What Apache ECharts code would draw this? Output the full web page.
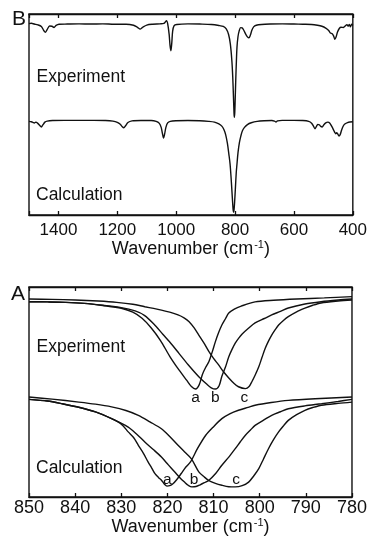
<!DOCTYPE html>
<html><head><meta charset="utf-8">
<script src="https://cdn.jsdelivr.net/npm/echarts@6/dist/echarts.min.js"></script>
<style>html,body{margin:0;padding:0;background:#fff}#c{width:370px;height:544px}</style>
</head><body><div id="c"></div>
<script>
// ---------- data ----------
const panelLetters = ['B', 'A'];
const traceLabels = ['Experiment', 'Calculation'];
const peakLetters = ['a', 'b', 'c'];
const bTicks = [1400, 1200, 1000, 800, 600, 400];
const aTicks = [850, 840, 830, 820, 810, 800, 790, 780];
const axisTitle = 'Wavenumber (cm{s|-1})';

// Panel B: full spectra [wavenumber, relative transmittance]
const bExperiment = [[1500,95.2],[1492,95.4],[1482,95.0],[1470,94.6],[1458,93.8],[1450,91.8],[1444,90.9],[1438,92.4],[1430,94.0],[1422,93.9],[1415,93.3],[1408,94.3],[1398,94.9],[1370,95.0],[1330,95.1],[1290,95.0],[1250,95.1],[1210,94.9],[1170,94.9],[1145,94.4],[1132,93.4],[1122,92.5],[1112,93.6],[1100,94.5],[1080,94.9],[1055,95.1],[1042,95.3],[1036,96.2],[1033,96.7],[1029,95.2],[1024,90.0],[1021,84.5],[1018,81.7],[1015,85.5],[1012,91.5],[1007,94.2],[998,94.8],[960,95.1],[920,95.0],[880,94.8],[855,94.3],[840,93.8],[830,92.6],[822,89.8],[816,85.0],[811,77],[808,69],[805.5,59],[803.5,50.5],[802.5,48.6],[801,51],[799.5,58],[797.5,68],[795.5,76.5],[793.5,83.4],[790,88.8],[786,91.6],[781,93.2],[776,93.1],[770,91.8],[764,90.0],[758,88.6],[753,88.1],[748,89.5],[743,91.9],[737,93.6],[728,94.4],[710,94.8],[680,95.0],[640,95.1],[600,95.0],[570,94.9],[540,94.8],[520,94.4],[505,93.9],[492,93.0],[482,91.8],[476,90.5],[470,90.2],[465,89.0],[461,87.4],[457,88.5],[452,91.0],[446,92.8],[440,93.4],[432,93.3],[426,94.0],[420,94.7],[416,93.9],[412,94.8],[408,93.6],[404,94.9],[400,94.3]];
const bCalculation = [[1500,46.6],[1492,46.4],[1486,46.0],[1482,45.8],[1477,46.2],[1470,45.6],[1464,44.6],[1458,43.8],[1453,44.8],[1446,46.2],[1438,46.7],[1420,47.0],[1380,47.1],[1330,47.1],[1280,47.1],[1240,47.0],[1215,46.7],[1200,46.1],[1190,45.1],[1183,43.9],[1178,43.4],[1172,44.4],[1164,46.0],[1150,46.8],[1120,47.0],[1085,47.0],[1068,46.6],[1058,45.7],[1051,43.6],[1047,40.8],[1043,38.3],[1039,40.5],[1035,43.6],[1029,45.8],[1020,46.6],[1000,46.9],[960,47.0],[920,46.9],[890,46.6],[870,46.2],[855,45.3],[845,44.2],[838,42.5],[832,40.0],[826,35.6],[821,30.2],[817,25.4],[813.5,18.5],[810.5,11.5],[808,5.5],[806.5,2.5],[805,1.3],[803.5,2.5],[801.5,6.5],[799,13],[796,21],[793.5,25.4],[790,31],[785,36.2],[780,39.5],[775,41.9],[768,43.6],[758,45.0],[745,45.9],[725,46.6],[700,46.9],[675,47.0],[666,46.7],[661,46.3],[656,46.8],[640,47.1],[600,47.1],[570,47.0],[550,46.6],[540,45.7],[534,44.3],[528.5,42.9],[524,44.0],[519,45.0],[514,44.9],[509,44.1],[504,43.8],[499,44.8],[492,45.8],[485,46.2],[478,45.7],[472,44.2],[466,42.5],[461,41.0],[458,40.4],[455,40.9],[451,40.3],[447,39.3],[443,40.0],[438,42.3],[432,44.4],[426,45.4],[418,46.0],[410,46.3],[400,46.4]];

// Panel A: zoom on the ~810 cm-1 band, samples a, b, c
const aExpA = [[850,93.0],[846,92.9],[842,92.7],[838,92.2],[834,91.2],[830,89.9],[827.5,88.0],[825.5,85.1],[823.5,80.5],[821.5,74.5],[819.5,67.0],[817.5,60.5],[815.8,55.5],[814.8,52.6],[813.9,51.4],[813.1,53.5],[812.4,58.5],[811.7,61.8],[811,64.5],[810.3,69.0],[809.6,74.0],[808.9,78.3],[808.2,81.9],[807.4,85.0],[806.7,87.6],[805.5,89.5],[804,90.9],[801,92.9],[797,93.7],[792,94.3],[786,94.8],[780,95.4]];
const aExpB = [[850,93.0],[846,92.9],[842,92.7],[838,92.2],[834,91.3],[830,90.2],[827,88.6],[825,86.5],[823,82.5],[821,77.5],[819,72.5],[817.5,68.4],[815.5,63.0],[813.2,57.3],[811.5,53.8],[810.5,52.0],[809.6,51.4],[808.8,53.0],[808.2,57.5],[807.4,62.0],[806.7,66.8],[806,70.3],[805.3,73.3],[804.5,75.8],[803.8,77.6],[802.5,80.2],[801,82.9],[799,85.0],[797.4,86.7],[795.5,88.4],[793.8,90.0],[790.2,91.9],[786.7,93.0],[783,93.8],[780,94.3]];
const aExpC = [[850,94.3],[845,94.1],[840,93.8],[835,93.3],[831,92.7],[827.5,91.8],[824.9,90.6],[823,89.8],[821.3,89.0],[819.5,88.0],[817.7,86.7],[816.4,85.3],[815.3,83.5],[814.2,80.5],[813.2,77.1],[812,73.0],[811,69.2],[810,66.0],[808.9,62.9],[807.8,59.5],[806.7,56.7],[805.6,54.2],[804.6,52.5],[803.1,51.6],[802.3,52.6],[801.7,54.9],[801,58.0],[800.2,62.0],[799.5,66.5],[798.8,70.8],[798.1,74.2],[797.4,77.1],[796.6,79.8],[795.9,81.9],[794.8,84.2],[793.8,85.9],[792,88.2],[790.2,89.9],[788.5,91.3],[786.7,92.4],[783,93.3],[780,93.8]];
const aCalcA = [[850,46.5],[846,45.7],[842.8,44.4],[839,42.6],[835.6,40.5],[832.1,37.3],[830,34.7],[828.5,31.0],[827.3,28.2],[826.3,24.6],[825.2,20.8],[824.2,16.7],[823.4,13.8],[822.7,11.1],[821.9,9.2],[821.3,8.0],[820.6,6.0],[820.1,5.2],[819.5,5.4],[818.8,6.3],[818,8.2],[817,11.2],[816,14.3],[815,16.7],[813.5,23.0],[811.7,29.4],[810,33.5],[808.2,37.3],[806.5,39.6],[804.6,41.3],[802.5,42.7],[801,43.7],[797.5,45.0],[793.8,46.0],[788,46.8],[780,47.6]];
const aCalcB = [[850,46.5],[846,45.7],[842.8,44.4],[839,42.6],[835.6,40.5],[832.1,37.3],[828.5,33.3],[826.7,30.0],[824.9,26.2],[823,22.5],[821.3,19.0],[819.8,15.3],[818.4,11.9],[817.3,9.2],[816.3,7.1],[815.5,5.6],[814.7,4.8],[813.8,5.0],[813,5.7],[812,6.8],[811,8.0],[809.5,11.3],[808.2,15.1],[806.7,19.0],[805.3,23.0],[804.2,26.3],[803.1,29.4],[802,31.9],[801,34.1],[799,36.8],[797.4,38.9],[795.5,40.6],[793.8,42.0],[790.2,43.4],[786.6,44.4],[783,45.5],[780,46.5]];
const aCalcC = [[850,47.6],[845,46.6],[839.2,45.2],[835.6,44.2],[832.1,42.9],[829,41.2],[826.3,38.9],[823.8,35.8],[821.3,32.5],[819.5,28.8],[817.7,24.6],[816.2,21.3],[814.8,18.2],[813.2,12.0],[812,9.5],[811,7.8],[809.6,6.5],[808.2,5.6],[806.7,4.9],[805.3,4.8],[803.8,5.4],[802.4,7.1],[801.3,10.0],[800.2,13.5],[799.2,18.0],[798.1,23.0],[797,27.3],[795.9,31.0],[794.8,34.0],[793.8,36.5],[792,39.2],[790.2,41.3],[788.5,42.6],[786.6,43.7],[783,44.6],[780,45.2]];

// peak-letter anchor points [wavenumber, level]
const aExpLetterPos = [813.9, 809.6, 803.3];
const aExpLetterLevel = 47.3;
const aCalcLetterPos = [820.0, 814.2, 805.1];
const aCalcLetterLevel = 8.4;

// ---------- chart ----------
const FF = "'Liberation Sans', Arial, Helvetica, sans-serif";
const INK = '#111';
const chart = echarts.init(document.getElementById('c'), null, {renderer: 'canvas'});

function xAx(grid, min, max, interval, ticks, pos, fs, margin, gap) {
  const bottom = pos === 'bottom';
  return {
    type: 'value', gridIndex: grid, inverse: true, min: min, max: max, interval: interval,
    position: pos,
    axisLine: {show: true, onZero: false, lineStyle: {color: INK, width: 1.4}},
    axisTick: {show: true, inside: true, length: 4, lineStyle: {color: INK, width: 1.3}},
    axisLabel: {show: bottom, fontSize: fs, color: INK, fontFamily: FF, margin: margin,
      showMinLabel: true, showMaxLabel: true,
      formatter: v => ticks.indexOf(v) >= 0 ? String(v) : ''},
    splitLine: {show: false},
    name: bottom ? axisTitle : '', nameLocation: 'middle', nameGap: gap,
    nameTextStyle: {fontSize: 18, color: INK, fontFamily: FF,
      rich: {s: {fontSize: 11, color: INK, fontFamily: FF, verticalAlign: 'top', padding: [0, 0, 0, 1]}}}
  };
}
function yAx(grid) {
  return {type: 'value', gridIndex: grid, min: 0, max: 100, show: false};
}
function line(data, xi, yi) {
  return {type: 'line', data: data, xAxisIndex: xi, yAxisIndex: yi, showSymbol: false, symbol: 'none',
    smooth: 0.3, lineStyle: {color: INK, width: 1.4}, silent: true, z: 3};
}

chart.setOption({
  animation: false,
  backgroundColor: '#fff',
  grid: [
    {left: 29, right: 16, top: 14, height: 201, show: true, borderColor: INK, borderWidth: 1.4, backgroundColor: 'transparent'},
    {left: 29, right: 16, top: 287, height: 210, show: true, borderColor: INK, borderWidth: 1.4, backgroundColor: 'transparent'}
  ],
  xAxis: [
    xAx(0, 400, 1500, 200, bTicks, 'bottom', 17, 7, 19),
    xAx(0, 400, 1500, 200, bTicks, 'top', 17, 7, 0),
    xAx(1, 780, 850, 10, aTicks, 'bottom', 18, 2, 13),
    xAx(1, 780, 850, 10, aTicks, 'top', 18, 2, 0)
  ],
  yAxis: [yAx(0), yAx(1)],
  series: [
    line(bExperiment, 0, 0), line(bCalculation, 0, 0),
    line(aExpA, 2, 1), line(aExpB, 2, 1), line(aExpC, 2, 1),
    line(aCalcA, 2, 1), line(aCalcB, 2, 1), line(aCalcC, 2, 1)
  ]
});

const g = [];
function txt(s, x, y, size, align) {
  g.push({type: 'text', x: x, y: y, z: 10, silent: true,
    style: {text: s, fill: INK, font: size + 'px ' + FF, align: align || 'left', verticalAlign: 'middle'}});
}
txt(panelLetters[0], 12, 19.5, 21);
txt(panelLetters[1], 11, 294.5, 21);
txt(traceLabels[0], 36.5, 77.3, 17.5);
txt(traceLabels[1], 36, 195.5, 17.5);
txt(traceLabels[0], 36.5, 347.5, 17.5);
txt(traceLabels[1], 36, 467.8, 17.5);
peakLetters.forEach((L, i) => {
  const p1 = chart.convertToPixel({xAxisIndex: 2, yAxisIndex: 1}, [aExpLetterPos[i], aExpLetterLevel]);
  txt(L, p1[0], p1[1], 15.5, 'center');
  const p2 = chart.convertToPixel({xAxisIndex: 2, yAxisIndex: 1}, [aCalcLetterPos[i], aCalcLetterLevel]);
  txt(L, p2[0], p2[1], 15.5, 'center');
});
chart.setOption({graphic: {elements: g}});
</script>
</body></html>
